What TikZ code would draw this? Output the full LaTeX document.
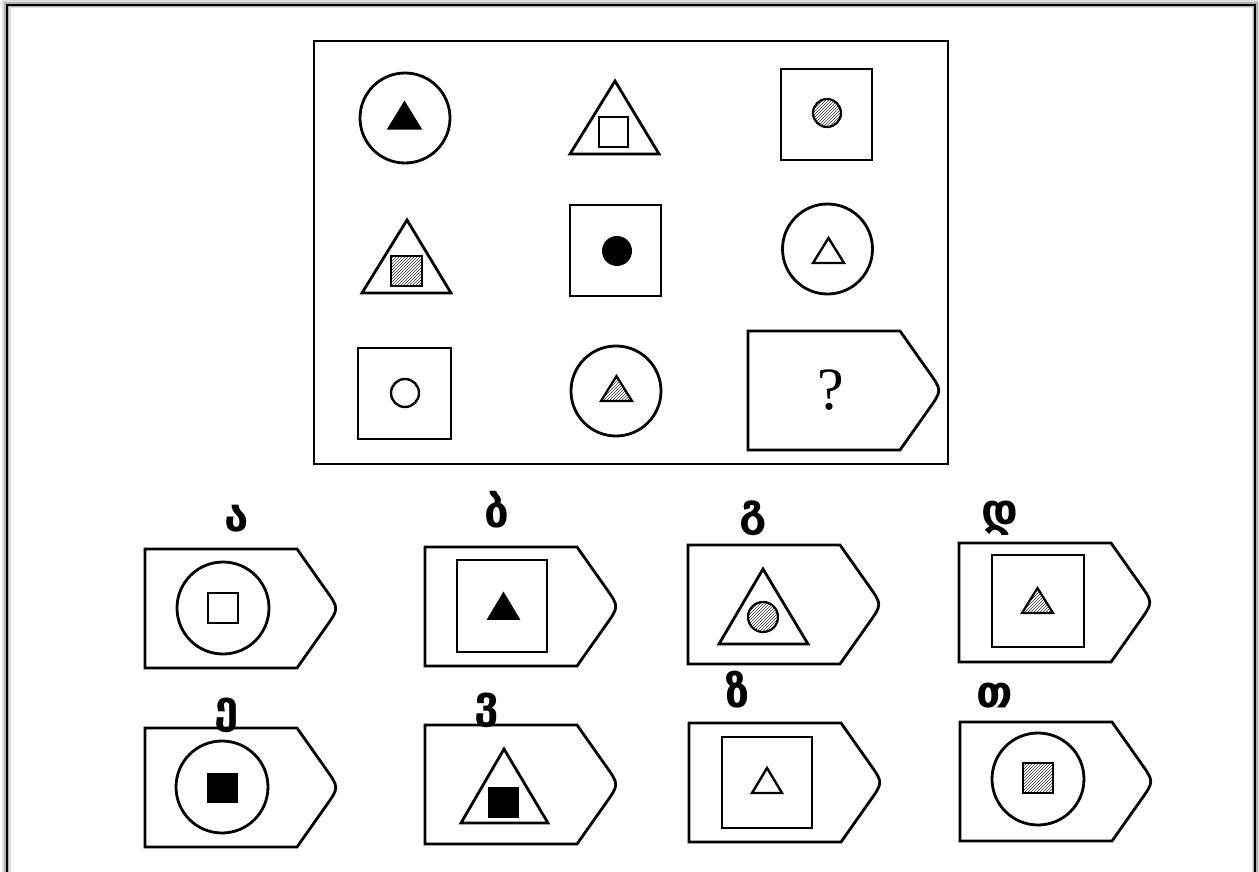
\documentclass[tikz,border=0pt]{standalone}
\usepackage{fontspec}
\newfontfamily\geo{DejaVu Sans}
\newfontfamily\qfont{Liberation Serif}
\usetikzlibrary{patterns}
\tikzset{
  shp/.style={draw=black, line width=2.8pt, line join=miter},
  solidfill/.style={fill=black, draw=black, line width=1.5pt, line join=miter},
  hatchfill/.style={pattern=north east lines, pattern color=black!75, draw=black, line width=2.2pt},
  thinshp/.style={draw=black, line width=2.4pt, line join=miter},
  lbl/.style={anchor=base, inner sep=0pt, font=\geo\bfseries\fontsize{44}{50}\selectfont},
  tagpic/.pic={\draw[shp] (0,0) -- (152,0) -- (181,41.1) .. controls (194,59.5) .. (181,77.9) -- (152,119) -- (0,119) -- cycle;}
}
\begin{document}
\begin{tikzpicture}[x=1pt,y=-1pt]
\useasboundingbox (0,0) rectangle (1259,872);
\fill[white] (0,0) rectangle (1259,872);
% outer frame with shadow
\draw[black!12, line width=9pt] (6,880) -- (6,4) -- (1256,4) -- (1256,880);
\draw[black!30, line width=5pt] (6.5,880) -- (6.5,4.5) -- (1255.5,4.5) -- (1255.5,880);
\draw[black, line width=2.2pt] (7,880) -- (7,5) -- (1255,5) -- (1255,880);
% main box
\draw[shp] (314,41) rectangle (948,464);
% row 1
\draw[shp] (405,118) circle (45);
\draw[solidfill] (388,129) -- (421,129) -- (404.5,102) -- cycle;
\draw[shp] (570,154) -- (659,154) -- (615,81) -- cycle;
\draw[thinshp] (599,117) rectangle (628,147);
\draw[shp] (781,69) rectangle (872,160);
\draw[hatchfill] (827,113) circle (14);
% row 2
\draw[shp] (362,293) -- (451,293) -- (407,220) -- cycle;
\draw[hatchfill] (391,256) rectangle (422,286);
\draw[shp] (570,205) rectangle (661,296);
\fill[black] (617,251) circle (15);
\draw[shp] (827.5,249) circle (45);
\draw[thinshp] (813,263) -- (844,263) -- (828.5,238) -- cycle;
% row 3
\draw[shp] (358,348) rectangle (451,439);
\draw[thinshp] (405,393) circle (14);
\draw[shp] (616,391) circle (45);
\draw[hatchfill] (601,401) -- (632,401) -- (616.5,376) -- cycle;
\pic at (748,331) {tagpic};
\node[inner sep=0pt, font=\qfont\fontsize{60}{66}\selectfont] (q) at (831,390) {?};
% options row 1
\pic at (145,549) {tagpic};
\draw[shp] (223,608) circle (46);
\draw[thinshp] (208,593) rectangle (238,623);
\node[lbl] (la) at (237,531) {ა};

\pic at (425,547) {tagpic};
\draw[shp] (457,560) rectangle (547,652);
\draw[solidfill] (488,619) -- (519,619) -- (503.5,593) -- cycle;
\node[lbl] (lb) at (497,527) {ბ};

\pic at (688,545) {tagpic};
\draw[shp] (719,644) -- (808,644) -- (763,569) -- cycle;
\draw[hatchfill] (763,617) circle (15);
\node[lbl] (lg) at (753,525) {გ};

\pic at (959,543) {tagpic};
\draw[shp] (992,555) rectangle (1084,647);
\draw[hatchfill] (1022,613) -- (1053,613) -- (1037.5,588) -- cycle;
\node[lbl] (ld) at (1000,525) {დ};
% options row 2
\pic at (145,728) {tagpic};
\draw[shp] (222,787) circle (46);
\fill[black] (207,773) rectangle (238,803);
\node[lbl] (le) at (227,722) {ე};

\pic at (425,725) {tagpic};
\draw[shp] (461,823) -- (548,823) -- (504,749) -- cycle;
\fill[black] (488,787) rectangle (519,818);
\node[lbl] (lv) at (487,717) {ვ};

\pic at (689,723) {tagpic};
\draw[shp] (722,737) rectangle (812,828);
\draw[thinshp] (752,793) -- (782,793) -- (767,768) -- cycle;
\node[lbl] (lz) at (738,707) {ზ};

\pic at (960,722) {tagpic};
\draw[shp] (1038,779) circle (46);
\draw[hatchfill] (1023,763) rectangle (1053,793);
\node[lbl] (lt) at (995,707) {თ};
\end{tikzpicture}
\end{document}
